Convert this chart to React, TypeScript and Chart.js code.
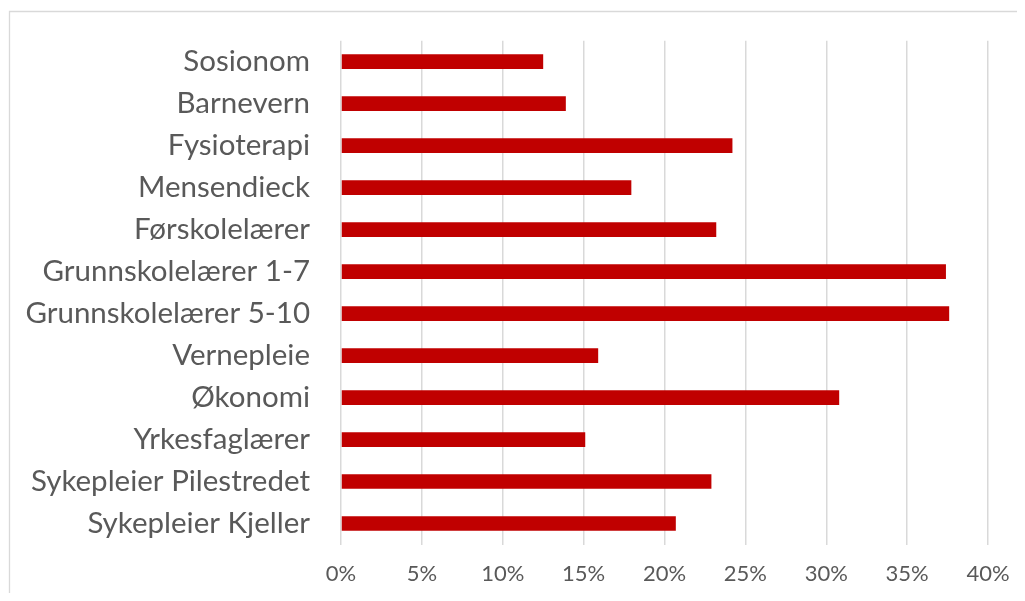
import React, { useEffect, useRef } from "react";
import { Chart, registerables } from "chart.js";

Chart.register(...registerables);

const categories = [
  "Sosionom",
  "Barnevern",
  "Fysioterapi",
  "Mensendieck",
  "Førskolelærer",
  "Grunnskolelærer 1-7",
  "Grunnskolelærer 5-10",
  "Vernepleie",
  "Økonomi",
  "Yrkesfaglærer",
  "Sykepleier Pilestredet",
  "Sykepleier Kjeller",
];

const values = [12.5, 13.9, 24.2, 17.95, 23.2, 37.4, 37.6, 15.9, 30.8, 15.1, 22.9, 20.7];

const xMin = 0;
const xMax = 40;
const xStep = 5;

const FONT = "Lato, 'Open Sans', sans-serif";
const TEXT = "#595959";
const GRID = "#d9d9d9";
const BAR = "#c00000";

const frame = {
  id: "frame",
  beforeDraw(chart: any) {
    const { ctx, width, height } = chart;
    ctx.save();
    ctx.fillStyle = "#ffffff";
    ctx.fillRect(0, 0, width, height);
    ctx.strokeStyle = GRID;
    ctx.lineWidth = 1.3;
    ctx.beginPath();
    ctx.moveTo(width + 5, 3.5);
    ctx.lineTo(1.5, 3.5);
    ctx.lineTo(1.5, height + 5);
    ctx.stroke();
    ctx.restore();
  },
};

export default function App() {
  const ref = useRef<HTMLCanvasElement | null>(null);

  useEffect(() => {
    if (!ref.current) return;
    const chart = new Chart(ref.current, {
      type: "bar",
      data: {
        labels: categories,
        datasets: [
          {
            data: values,
            backgroundColor: BAR,
            borderWidth: 0,
            barPercentage: 0.35,
            categoryPercentage: 1,
          },
        ],
      },
      plugins: [frame],
      options: {
        indexAxis: "y",
        animation: false,
        responsive: false,
        devicePixelRatio: 1,
        layout: { padding: { top: 32.7, right: 29, left: 0, bottom: 0 } },
        plugins: {
          legend: { display: false },
          tooltip: { enabled: false },
        },
        scales: {
          x: {
            min: xMin,
            max: xMax,
            ticks: {
              stepSize: xStep,
              color: TEXT,
              font: { family: FONT, size: 22 },
              padding: 16,
              callback: (v: any) => `${v}%`,
              maxRotation: 0,
            },
            grid: { color: GRID, lineWidth: 1.5, drawTicks: false },
            border: { display: false },
            afterFit: (s: any) => {
              s.height = 48.5;
              s.paddingLeft = 0;
              s.paddingRight = 0;
            },
          },
          y: {
            ticks: {
              color: TEXT,
              font: { family: FONT, size: 29.5 },
              padding: 31,
            },
            grid: { display: false, drawTicks: false },
            border: { display: false },
            afterFit: (s: any) => {
              s.width = 333;
              s.paddingTop = 0;
              s.paddingBottom = 0;
            },
          },
        },
      },
    });
    return () => chart.destroy();
  }, []);

  return (
    <div style={{ width: 1009, height: 585 }}>
      <canvas ref={ref} width={1009} height={585} style={{ display: "block" }} />
    </div>
  );
}
